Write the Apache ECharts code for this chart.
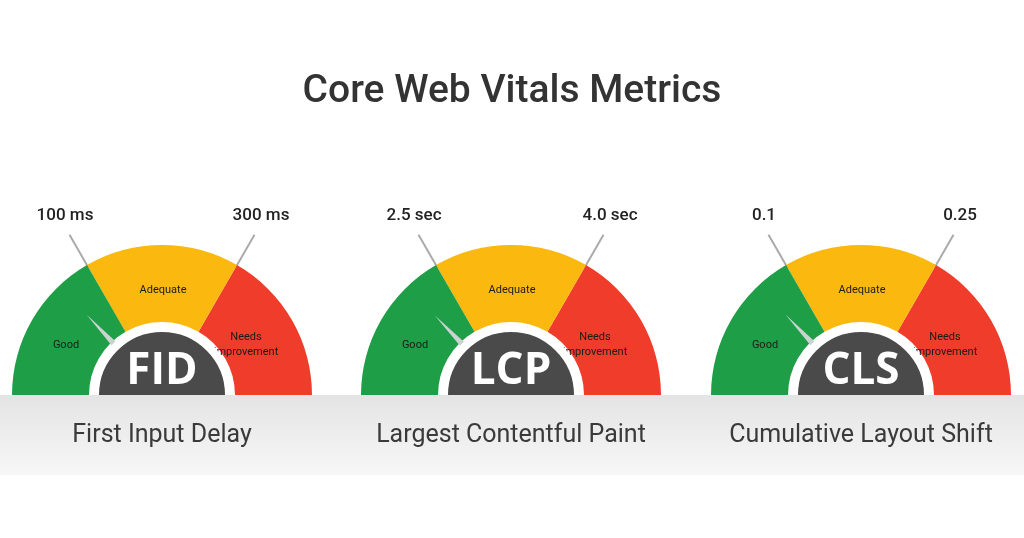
<!DOCTYPE html>
<html>
<head>
<meta charset="utf-8">
<script src="https://cdn.jsdelivr.net/npm/echarts@6/dist/echarts.min.js"></script>
<style>html,body{margin:0;padding:0;background:#fff}#main{width:1024px;height:538px}</style>
</head>
<body>
<div id="main"></div>
<script>
var chart = echarts.init(document.getElementById('main'));

var abbrevs = ['FID', 'LCP', 'CLS'];
var fullNames = ['First Input Delay', 'Largest Contentful Paint', 'Cumulative Layout Shift'];
var lowThresholds = ['100 ms', '2.5 sec', '0.1'];
var highThresholds = ['300 ms', '4.0 sec', '0.25'];
var zoneNames = ['Good', 'Adequate', 'Needs\nimprovement'];
var needleValues = [0.78, 0.77, 0.78];
var centersX = [162, 511, 861];

var cy = 395;
var series = [];
var texts = [];

abbrevs.forEach(function (abbr, i) {
    var center = [centersX[i], cy];
    // threshold tick lines
    series.push({
        type: 'gauge', center: center, radius: 185, z: 1,
        startAngle: 120, endAngle: 60, min: 0, max: 1, splitNumber: 1,
        axisLine: {lineStyle: {width: 0, color: [[1, 'transparent']]}},
        axisTick: {show: false},
        splitLine: {distance: 0, length: 38, lineStyle: {color: '#aaaaaa', width: 2}},
        axisLabel: {show: false},
        pointer: {show: false}, anchor: {show: false},
        detail: {show: false}, title: {show: false}, data: []
    });
    // coloured arc + zone labels
    series.push({
        type: 'gauge', center: center, radius: 150, z: 2,
        startAngle: 180, endAngle: 0, min: 0, max: 3,
        axisLine: {lineStyle: {width: 77, color: [[1 / 3, '#1f9e48'], [2 / 3, '#fbb80f'], [1, '#f03c2b']]}},
        axisTick: {show: false}, splitLine: {show: false}, axisLabel: {show: false},
        pointer: {show: false}, anchor: {show: false}, detail: {show: false},
        title: {fontSize: 11, color: '#1b1b1b', fontFamily: 'Roboto', lineHeight: 15},
        data: [
            {value: 0, name: zoneNames[0], title: {offsetCenter: [-96, -50]}},
            {value: 0, name: zoneNames[1], title: {offsetCenter: [1, -105]}},
            {value: 0, name: zoneNames[2], title: {offsetCenter: [84, -50]}}
        ]
    });
    // needle + dark hub
    series.push({
        type: 'gauge', center: center, radius: 150, z: 3,
        startAngle: 180, endAngle: 0, min: 0, max: 3,
        axisLine: {show: false}, axisTick: {show: false}, splitLine: {show: false}, axisLabel: {show: false},
        pointer: {length: 110, width: 8, itemStyle: {color: '#c9d4d0'}},
        anchor: {show: true, showAbove: true, size: 134, itemStyle: {color: '#4a4a4a', borderColor: '#fff', borderWidth: 8}},
        title: {show: false}, detail: {show: false},
        data: [{value: needleValues[i], name: abbr}]
    });
    texts.push(
        {type: 'text', z: 120, x: centersX[i], y: 371,
            style: {text: abbr, align: 'center', verticalAlign: 'middle', fontSize: 44, fontWeight: 'bold', fill: '#fff', fontFamily: 'Open Sans'}},
        {type: 'text', z: 120, x: centersX[i] - 97, y: 216,
            style: {text: lowThresholds[i], align: 'center', verticalAlign: 'middle', fontSize: 17, fontWeight: 500, fill: '#222', fontFamily: 'Roboto'}},
        {type: 'text', z: 120, x: centersX[i] + 99, y: 216,
            style: {text: highThresholds[i], align: 'center', verticalAlign: 'middle', fontSize: 17, fontWeight: 500, fill: '#222', fontFamily: 'Roboto'}},
        {type: 'text', z: 120, x: centersX[i], y: 436,
            style: {text: fullNames[i], align: 'center', verticalAlign: 'middle', fontSize: 25, fill: '#3a3a3a', fontFamily: 'Roboto'}}
    );
});

var option = {
    backgroundColor: '#fff',
    title: {
        text: 'Core Web Vitals Metrics', left: 'center', top: 68,
        textStyle: {fontSize: 39, fontWeight: 500, color: '#333', fontFamily: 'Roboto'}
    },
    graphic: [{
        type: 'rect', z: 100, shape: {x: 0, y: cy, width: 1024, height: 80},
        style: {fill: new echarts.graphic.LinearGradient(0, 0, 0, 1, [
            {offset: 0, color: '#e4e4e4'}, {offset: 1, color: '#f7f7f7'}])}
    }].concat(texts),
    series: series
};

chart.setOption(option);
</script>
</body>
</html>
